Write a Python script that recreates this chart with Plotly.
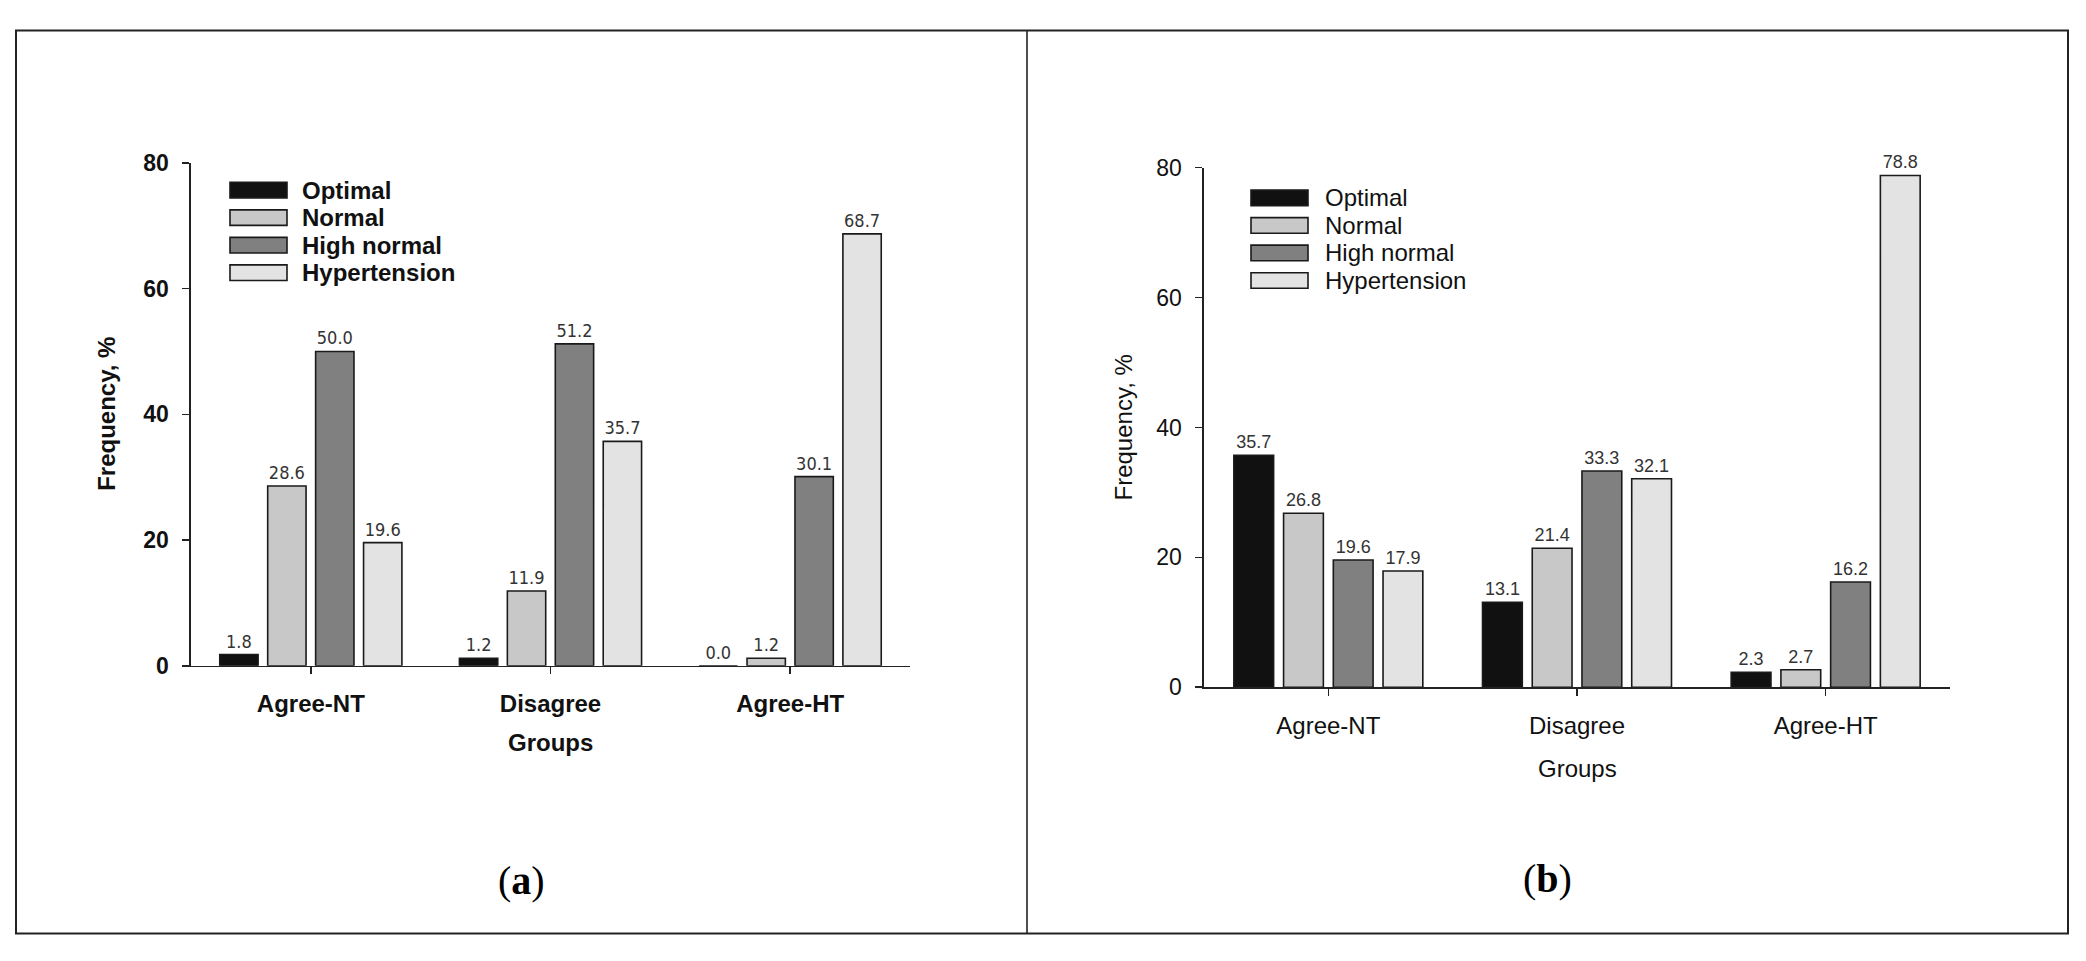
import plotly.graph_objects as go

W, H = 2086, 961

categories = ["Agree-NT", "Disagree", "Agree-HT"]
series = ["Optimal", "Normal", "High normal", "Hypertension"]
colors = ["#111111", "#c8c8c8", "#808080", "#e3e3e3"]

a_optimal = [1.8, 1.2, 0.0]
a_normal = [28.6, 11.9, 1.2]
a_high = [50.0, 51.2, 30.1]
a_hyper = [19.6, 35.7, 68.7]

b_optimal = [35.7, 13.1, 2.3]
b_normal = [26.8, 21.4, 2.7]
b_high = [19.6, 33.3, 16.2]
b_hyper = [17.9, 32.1, 78.8]

y_ticks = [0, 20, 40, 60, 80]
panel_labels = ["a", "b"]
y_title = "Frequency, %"
x_title = "Groups"


def px(x):
    return x / W


def py(y):
    return 1 - y / H


FONT = "Liberation Sans, Arial, sans-serif"
NARROW = "Liberation Sans Narrow, Arial Narrow, DejaVu Sans Condensed, Liberation Sans, sans-serif"

fig = go.Figure()

panels = [
    dict(vals=[a_optimal, a_normal, a_high, a_hyper], xa="x", ya="y", bold=True,
         dom_x=(191, 910), dom_y=(154, 671), lab_font=NARROW, lab_size=18),
    dict(vals=[b_optimal, b_normal, b_high, b_hyper], xa="x2", ya="y2", bold=False,
         dom_x=(1204, 1950), dom_y=(159, 693), lab_font=FONT, lab_size=18),
]

for p in panels:
    for name, vals, col in zip(series, p["vals"], colors):
        fig.add_trace(go.Bar(
            x=categories, y=vals, name=name, xaxis=p["xa"], yaxis=p["ya"],
            marker=dict(color=col, line=dict(color="#1a1a1a", width=1.6)),
            text=vals, texttemplate="%{y:.1f}", textposition="outside",
            textfont=dict(family=p["lab_font"], size=p["lab_size"], color="#333333"),
            constraintext="none", cliponaxis=False, showlegend=False,
            hoverinfo="skip",
        ))


def axis_common(bold, is_x):
    return dict(
        showline=True, linecolor="#222222", linewidth=1.6,
        ticks="outside", ticklen=7, tickwidth=1.6, tickcolor="#222222",
        showgrid=False, zeroline=False,
        tickfont=dict(family=FONT, size=(24 if is_x else 23), color="#111111",
                      weight=("bold" if bold else "normal")),
        ticklabelstandoff=9,
    )


layout_axes = {}
for i, p in enumerate(panels):
    sfx = "" if i == 0 else "2"
    xd = (px(p["dom_x"][0]), px(p["dom_x"][1]))
    yd = (py(p["dom_y"][1]), py(p["dom_y"][0]))
    ax_x = axis_common(p["bold"], True)
    ax_x.update(domain=list(xd), type="category", range=[-0.5, 2.5],
                anchor="y" + sfx)
    ax_y = axis_common(p["bold"], False)
    ax_y.update(domain=list(yd), range=[0, 80], tickvals=y_ticks,
                anchor="x" + sfx)
    layout_axes["xaxis" + sfx] = ax_x
    layout_axes["yaxis" + sfx] = ax_y

shapes = []
annotations = []

# outer frame and divider
shapes.append(dict(type="rect", xref="paper", yref="paper",
                   x0=px(16), x1=px(2068), y0=py(946), y1=py(18),
                   line=dict(color="#222222", width=2)))
shapes.append(dict(type="line", xref="paper", yref="paper",
                   x0=px(1027), x1=px(1027), y0=py(946), y1=py(18),
                   line=dict(color="#222222", width=1.6)))

# small x-axis extension to the left of the y axis (axes cross)
for p in panels:
    shapes.append(dict(type="line", xref="paper", yref="paper",
                       x0=px(p["dom_x"][0] - 8), x1=px(p["dom_x"][0]),
                       y0=py(p["dom_y"][1]), y1=py(p["dom_y"][1]),
                       line=dict(color="#222222", width=1.6)))

# legends, axis titles and panel labels
legend_cfg = [
    dict(sx=230, tx=300, y0=182, bold=True),
    dict(sx=1251, tx=1323, y0=190, bold=False),
]
title_cfg = [
    dict(yx=107, yy=412, gx=550, gy=750, lx=521, ly=892),
    dict(yx=1123, yy=426, gx=1577, gy=776, lx=1547, ly=890),
]
for i, (lg, tc) in enumerate(zip(legend_cfg, title_cfg)):
    wt = "bold" if lg["bold"] else "normal"
    for k, (name, col) in enumerate(zip(series, colors)):
        yc = lg["y0"] + k * 28.3
        shapes.append(dict(type="rect", xref="paper", yref="paper",
                           x0=px(lg["sx"]), x1=px(lg["sx"] + 57),
                           y0=py(yc + 8), y1=py(yc - 8),
                           fillcolor=col, line=dict(color="#1a1a1a", width=1.6)))
        annotations.append(dict(xref="paper", yref="paper", x=px(lg["tx"]), y=py(yc),
                                xanchor="left", yanchor="middle", showarrow=False,
                                text=name,
                                font=dict(family=FONT, size=24, color="#111111", weight=wt)))
    annotations.append(dict(xref="paper", yref="paper", x=px(tc["yx"]), y=py(tc["yy"]),
                            xanchor="center", yanchor="middle", showarrow=False,
                            textangle=-90, text=y_title,
                            font=dict(family=FONT, size=24, color="#111111", weight=wt)))
    annotations.append(dict(xref="paper", yref="paper", x=px(tc["gx"]), y=py(tc["gy"]),
                            xanchor="center", yanchor="middle", showarrow=False,
                            text=x_title,
                            font=dict(family=FONT, size=24, color="#111111", weight=wt)))
    annotations.append(dict(xref="paper", yref="paper", x=px(tc["lx"]), y=py(tc["ly"]),
                            xanchor="center", yanchor="middle", showarrow=False,
                            text="(<b>%s</b>)" % panel_labels[i],
                            font=dict(family="Palatino Linotype, Book Antiqua, Palatino, Liberation Serif, DejaVu Serif, serif",
                                      size=40, color="#000000")))

fig.update_layout(
    width=W, height=H, autosize=False,
    margin=dict(l=0, r=0, t=0, b=0, pad=0),
    paper_bgcolor="white", plot_bgcolor="rgba(0,0,0,0)",
    barmode="group", bargap=0.2, bargroupgap=0.2,
    shapes=shapes, annotations=annotations,
    showlegend=False,
    **layout_axes,
)

fig.write_html("out.html",
               config={"displayModeBar": False, "staticPlot": True},
               post_script="document.body.style.margin='0px';document.body.style.overflow='hidden';")
